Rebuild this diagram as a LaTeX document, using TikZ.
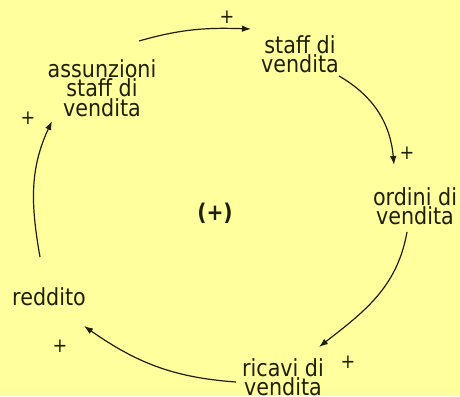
\documentclass[tikz,border=0pt]{standalone}
\usepackage{fontspec}
\setmainfont{DejaVu Sans}[FakeStretch=0.88]
\usetikzlibrary{arrows.meta}
\definecolor{bgyel}{HTML}{FFFF9E}
\definecolor{ink}{HTML}{1F1F05}
\begin{document}
\begin{tikzpicture}[x=1pt,y=1pt,
  lbl/.style={align=center,inner sep=0pt,text=ink,font=\fontsize{23.5}{19.5}\selectfont},
  sgn/.style={inner sep=0pt,text=ink,font=\fontsize{20}{20}\selectfont},
  arr/.style={draw=ink,line width=1.2pt,-{Latex[length=9pt,width=6.5pt]}}]
\fill[bgyel] (0,0) rectangle (460,396);
\useasboundingbox (0,0) rectangle (460,396);
\node[lbl] (assu) at (102,308) {assunzioni\\staff di\\vendita};
\node[lbl] (staff) at (300,342) {staff di\\vendita};
\node[lbl] (ordini) at (415,190) {ordini di\\vendita};
\node[lbl] (ricavi) at (283,19) {ricavi di\\vendita};
\node[lbl] (reddito) at (49,99) {reddito};
\node[lbl,font=\fontsize{23}{23}\selectfont\bfseries] (loop) at (215,183) {(+)};
\node[sgn] (p1) at (227,379) {+};
\node[sgn] (p2) at (407,243) {+};
\node[sgn] (p3) at (348,34) {+};
\node[sgn] (p4) at (60,50) {+};
\node[sgn] (p5) at (28,278) {+};
\draw[arr] ([shift={(37,47)}]assu.center) to[out=16,in=178] ([shift={(-49,25)}]staff.center);
\draw[arr] ([shift={(39,-22)}]staff.center) to[out=-30,in=95] ([shift={(-21,41)}]ordini.center);
\draw[arr] ([shift={(-8,-26)}]ordini.center) to[out=-100,in=38] ([shift={(36,30)}]ricavi.center);
\draw[arr] ([shift={(-47,-5)}]ricavi.center) to[out=176,in=-35] ([shift={(35,-29)}]reddito.center);
\draw[arr] ([shift={(-9,40)}]reddito.center) to[out=100,in=-115] ([shift={(-50,-33)}]assu.center);
\end{tikzpicture}
\end{document}
